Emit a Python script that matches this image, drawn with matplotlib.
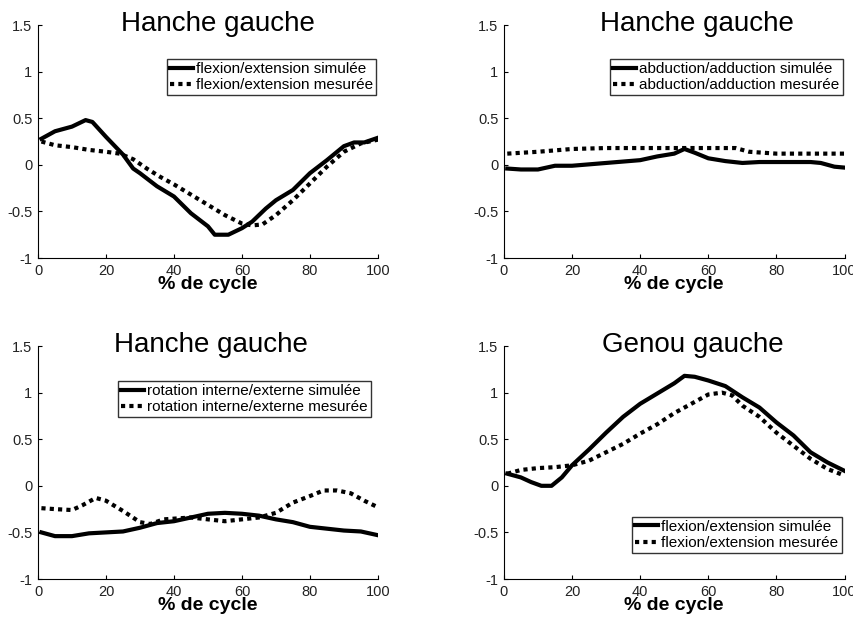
import matplotlib
matplotlib.use('Agg')
from matplotlib import pyplot as plt

plt.rcParams['font.family'] = ['Liberation Sans', 'DejaVu Sans']

# hanche gauche - flexion/extension
hfe_x_sim = [1, 5, 10, 14, 16, 20, 25, 28, 30, 35, 40, 45, 50, 52, 56, 60, 63, 67, 70, 75, 80, 85, 88, 90, 93, 96, 100]
hfe_sim = [0.28, 0.36, 0.41, 0.48, 0.46, 0.30, 0.11, -0.04, -0.09, -0.23, -0.34, -0.52, -0.66, -0.75, -0.75, -0.68, -0.61, -0.47, -0.38, -0.27, -0.09, 0.05, 0.14, 0.20, 0.24, 0.24, 0.29]
hfe_x_mes = [1, 5, 10, 15, 20, 24, 28, 32, 36, 40, 45, 50, 55, 60, 63, 66, 70, 75, 80, 85, 90, 95, 100]
hfe_mes = [0.25, 0.21, 0.19, 0.16, 0.14, 0.12, 0.06, -0.04, -0.13, -0.21, -0.32, -0.43, -0.54, -0.63, -0.65, -0.64, -0.54, -0.38, -0.20, -0.02, 0.14, 0.23, 0.27]

# hanche gauche - abduction/adduction
haa_x_sim = [1, 5, 10, 15, 20, 30, 40, 45, 50, 53, 56, 60, 65, 70, 75, 80, 90, 93, 97, 100]
haa_sim = [-0.04, -0.05, -0.05, -0.01, -0.01, 0.02, 0.05, 0.09, 0.12, 0.17, 0.13, 0.07, 0.04, 0.02, 0.03, 0.03, 0.03, 0.02, -0.02, -0.03]
haa_x_mes = [1, 10, 20, 30, 40, 50, 60, 68, 72, 80, 85, 100]
haa_mes = [0.12, 0.14, 0.17, 0.18, 0.18, 0.18, 0.18, 0.18, 0.14, 0.12, 0.12, 0.12]

# hanche gauche - rotation interne/externe
hri_x_sim = [1, 5, 10, 15, 20, 25, 30, 35, 40, 45, 50, 55, 60, 65, 70, 75, 80, 85, 90, 95, 100]
hri_sim = [-0.50, -0.54, -0.54, -0.51, -0.50, -0.49, -0.45, -0.40, -0.38, -0.34, -0.30, -0.29, -0.30, -0.32, -0.36, -0.39, -0.44, -0.46, -0.48, -0.49, -0.53]
hri_x_mes = [1, 5, 10, 13, 17, 20, 25, 30, 33, 37, 45, 50, 55, 60, 65, 70, 75, 80, 84, 88, 92, 96, 100]
hri_mes = [-0.24, -0.25, -0.26, -0.21, -0.13, -0.16, -0.27, -0.39, -0.41, -0.36, -0.34, -0.36, -0.38, -0.36, -0.34, -0.29, -0.18, -0.11, -0.05, -0.05, -0.08, -0.16, -0.23]

# genou gauche - flexion/extension
gfe_x_sim = [1, 5, 8, 11, 14, 17, 20, 25, 30, 35, 40, 45, 50, 53, 56, 60, 65, 70, 75, 80, 85, 90, 95, 100]
gfe_sim = [0.13, 0.09, 0.04, 0.00, 0.00, 0.09, 0.22, 0.39, 0.57, 0.74, 0.88, 0.99, 1.10, 1.18, 1.17, 1.13, 1.07, 0.95, 0.84, 0.68, 0.54, 0.36, 0.25, 0.16]
gfe_x_mes = [1, 5, 10, 15, 20, 25, 30, 35, 40, 45, 50, 55, 60, 64, 67, 70, 75, 80, 85, 90, 95, 100]
gfe_mes = [0.13, 0.17, 0.19, 0.20, 0.22, 0.27, 0.36, 0.45, 0.56, 0.66, 0.78, 0.88, 0.98, 1.00, 0.97, 0.86, 0.74, 0.57, 0.43, 0.29, 0.18, 0.11]

panels = [
    ("Hanche gauche", hfe_x_sim, hfe_sim, hfe_x_mes, hfe_mes,
     "flexion/extension simulée", "flexion/extension mesurée"),
    ("Hanche gauche", haa_x_sim, haa_sim, haa_x_mes, haa_mes,
     "abduction/adduction simulée", "abduction/adduction mesurée"),
    ("Hanche gauche", hri_x_sim, hri_sim, hri_x_mes, hri_mes,
     "rotation interne/externe simulée", "rotation interne/externe mesurée"),
    ("Genou gauche", gfe_x_sim, gfe_sim, gfe_x_mes, gfe_mes,
     "flexion/extension simulée", "flexion/extension mesurée"),
]

# axes boxes [left, bottom, width, height] in figure fraction
boxes = [[0.0445, 0.5825, 0.398, 0.377],
         [0.590, 0.5825, 0.399, 0.377],
         [0.0445, 0.0631, 0.398, 0.377],
         [0.590, 0.0631, 0.399, 0.377]]
title_x = [0.53, 0.566, 0.51, 0.554]
leg_loc = ['upper right', 'upper right', 'upper right', 'lower right']
leg_anchor = [(0.994, 0.854), (0.994, 0.854), (0.979, 0.850), (0.991, 0.112)]

fig = plt.figure(figsize=(8.54, 6.18), dpi=100)

for i, (title, xs, ys, xm, ym, lab_s, lab_m) in enumerate(panels):
    ax = fig.add_axes(boxes[i])
    ax.plot(xs, ys, color='black', linewidth=3, label=lab_s)
    ax.plot(xm, ym, color='black', linewidth=3, linestyle=(0, (1, 1)), label=lab_m)
    ax.set_xlim(0, 100)
    ax.set_ylim(-1, 1.5)
    ax.set_xticks([0, 20, 40, 60, 80, 100])
    ax.set_yticks([-1, -0.5, 0, 0.5, 1, 1.5])
    ax.set_yticklabels(['-1', '-0.5', '0', '0.5', '1', '1.5'])
    ax.spines['top'].set_visible(False)
    ax.spines['right'].set_visible(False)
    ax.tick_params(direction='in', length=3, labelsize=10.5, pad=4, labelcolor='#222222')
    ax.set_xlabel("% de cycle", fontsize=14, fontweight='bold', labelpad=-1)
    ax.text(title_x[i], 0.975, title, transform=ax.transAxes, fontsize=20,
            ha='center', va='baseline')
    leg = ax.legend(loc=leg_loc[i], bbox_to_anchor=leg_anchor[i], fontsize=11,
                    frameon=True, fancybox=False, edgecolor='black',
                    handlelength=1.5, handletextpad=0.2, labelspacing=0.15,
                    borderpad=0.2, borderaxespad=0)
    leg.get_frame().set_linewidth(1)

fig.savefig("out.png", dpi=100)
